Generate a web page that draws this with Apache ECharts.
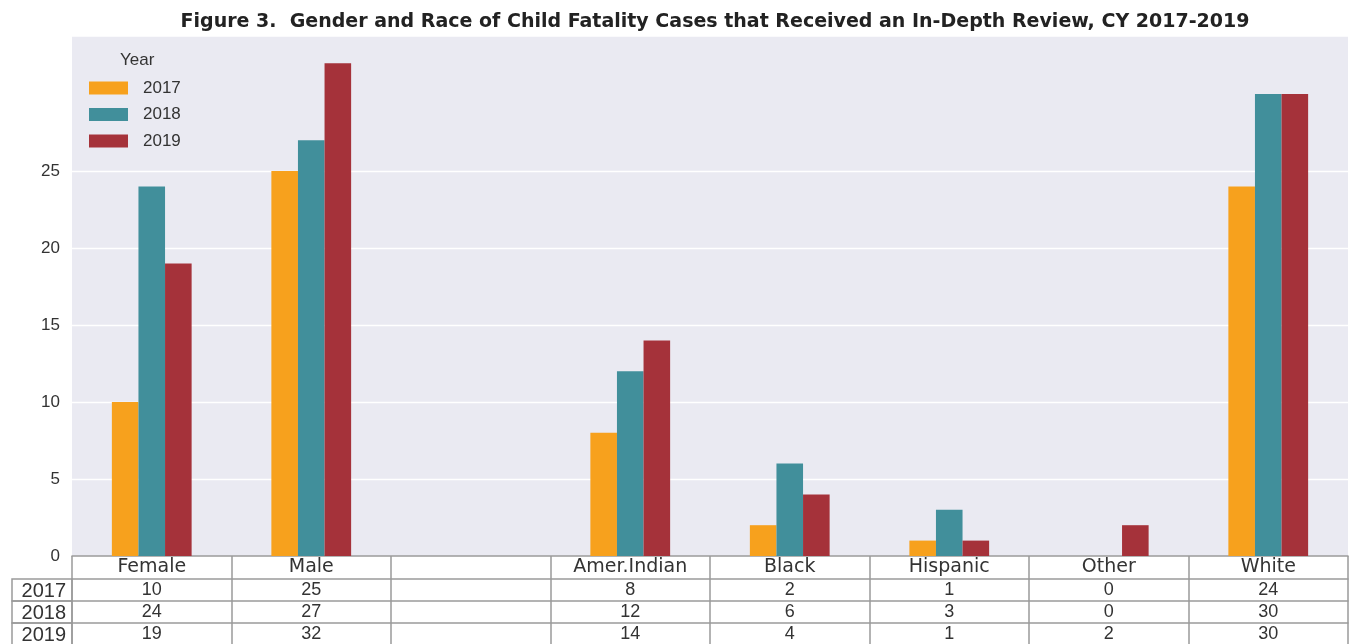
<!DOCTYPE html>
<html><head><meta charset="utf-8">
<script src="https://cdn.jsdelivr.net/npm/echarts@6/dist/echarts.min.js"></script>
<style>html,body{margin:0;padding:0;background:#fff}#c{width:1355px;height:644px}</style>
</head><body><div id="c"></div>
<script>
const categories = ['Female','Male','','Amer.Indian','Black','Hispanic','Other','White'];
const years = ['2017','2018','2019'];
const v2017 = [10,25,null,8,2,1,0,24];
const v2018 = [24,27,null,12,6,3,0,30];
const v2019 = [19,32,null,14,4,1,2,30];
const yTicksShown = [0,5,10,15,20,25];
const colors = ['#F7A11D','#418F9B','#A5323A'];
const BG = '#EAEAF2';
const LINE = '#9a9a9a';
const FONT = 'Liberation Sans, Arial, sans-serif';
const WIDE = 'DejaVu Sans, sans-serif';

const chart = echarts.init(document.getElementById('c'));
const rows = [v2017, v2018, v2019];
const cellFmt = arr => (val, idx) => (arr[idx] === null || arr[idx] === undefined) ? '' : String(arr[idx]);

const tableAxes = rows.map((arr, i) => ({
  type: 'category', data: categories, position: 'bottom', offset: 23 + 22 * i,
  gridIndex: 0,
  axisLine: { show: true, lineStyle: { color: LINE, width: 1.5 } },
  axisTick: { show: false },
  axisLabel: { interval: 0, margin: 1, fontSize: 18, color: '#333', fontFamily: FONT, lineHeight: 20,
               formatter: cellFmt(arr) },
  splitLine: { show: false }
}));

const splitColors = [];
for (let v = 0; v <= 40; v += 5) splitColors.push(yTicksShown.includes(v) ? '#ffffff' : BG);

const option = {
  animation: false,
  backgroundColor: '#fff',
  title: {
    text: 'Figure 3.  Gender and Race of Child Fatality Cases that Received an In-Depth Review, CY 2017-2019',
    left: 710, top: 8, textAlign: 'center',
    textStyle: { fontFamily: WIDE, fontWeight: 'bold', fontSize: 19, color: '#222' }
  },
  legend: {
    orient: 'vertical', left: 84, top: 74.5, itemWidth: 39, itemHeight: 13, itemGap: 9.5,
    icon: 'rect', data: years,
    textStyle: { fontFamily: FONT, fontSize: 17, color: '#333', padding: [0,0,0,10] }
  },
  graphic: [
    { type: 'text', left: 120, top: 52, style: { text: 'Year', font: '17px ' + FONT, fill: '#333' } }
  ],
  grid: { left: 72, right: 7, top: 37, bottom: 88, backgroundColor: BG, show: true, borderWidth: 0, containLabel: false },
  xAxis: [
    {
      type: 'category', data: categories, position: 'bottom', offset: 0,
      axisLine: { show: true, lineStyle: { color: LINE, width: 1.5 } },
      axisTick: { show: true, interval: 0, alignWithLabel: false, length: 90, lineStyle: { color: LINE, width: 1.5 } },
      axisLabel: { interval: 0, margin: 1, fontSize: 19, color: '#333', fontFamily: WIDE, lineHeight: 20 },
      splitLine: { show: false }
    },
    ...tableAxes
  ],
  yAxis: {
    type: 'value', min: 0, max: 33.7, interval: 5,
    axisLine: { show: false }, axisTick: { show: false },
    axisLabel: { fontSize: 17, color: '#333', fontFamily: FONT, margin: 12,
                 formatter: v => yTicksShown.includes(v) ? String(v) : '' },
    splitLine: { show: true, lineStyle: { color: splitColors, width: 1.3 } }
  },
  series: years.map((y, i) => ({
    name: y, type: 'bar', data: rows[i], xAxisIndex: 0,
    barWidth: '16.667%', barGap: '0%', barCategoryGap: '50%',
    itemStyle: { color: colors[i] }
  }))
};
chart.setOption(option);

// row labels column of the table
const g = [...option.graphic];
const rowTop = 579, rowH = 22;
years.forEach((y, i) => {
  g.push({ type: 'rect', shape: { x: 12, y: rowTop + i * rowH, width: 60, height: rowH },
           style: { fill: 'none', stroke: LINE, lineWidth: 1.5 }, z: 10 });
  g.push({ type: 'text', x: 66, y: rowTop + i * rowH + rowH / 2 + 1,
           style: { text: y, font: '20px ' + FONT, fill: '#333', align: 'right', verticalAlign: 'middle' }, z: 11 });
});
chart.setOption({ graphic: g });
</script></body></html>
